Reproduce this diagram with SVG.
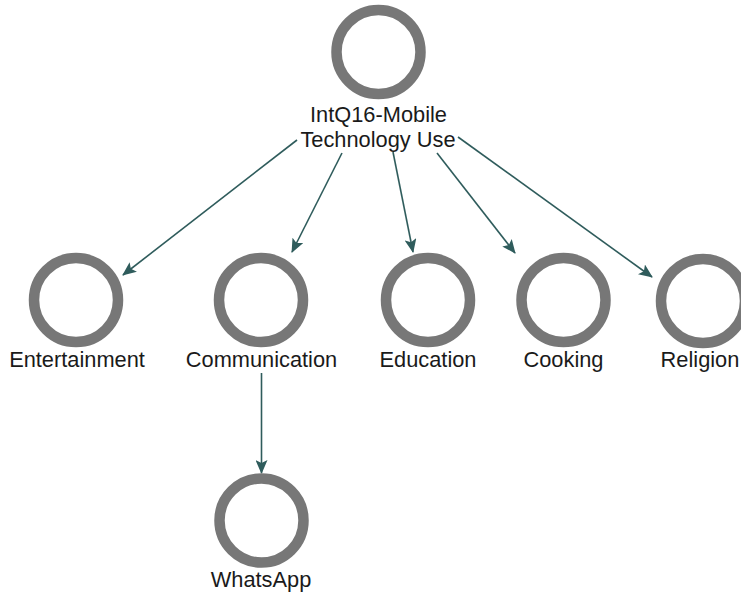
<svg xmlns="http://www.w3.org/2000/svg" width="741" height="595" viewBox="0 0 741 595">
<style>
.node circle{fill:none;stroke:#777777;stroke-width:10.5}
.node text{font-family:"Liberation Sans",Arial,sans-serif;font-size:21.8px;fill:#1a1a1a;text-anchor:middle}
.edge{stroke:#2f5c5c;stroke-width:1.6;fill:none;marker-end:url(#arr)}
</style>
<defs>
<marker id="arr" markerUnits="userSpaceOnUse" viewBox="0 0 14 12" markerWidth="14" markerHeight="12" refX="13" refY="6" orient="auto">
<path d="M0,0 L14,6 L0,12 L3,6 z" fill="#2f5c5c"/>
</marker>
</defs>
<rect width="741" height="595" fill="#ffffff"/>
<g id="connectors">
<line class="edge" x1="297" y1="140" x2="123" y2="275"/>
<line class="edge" x1="342" y1="153" x2="292" y2="252"/>
<line class="edge" x1="393" y1="152" x2="413" y2="252"/>
<line class="edge" x1="437" y1="153" x2="515" y2="253"/>
<line class="edge" x1="458" y1="137" x2="652" y2="277"/>
<line class="edge" x1="261.5" y1="373" x2="261.5" y2="473"/>
</g>
<g id="n-root" class="node">
<circle cx="378.5" cy="52" r="42"/>
<text x="378.5" y="122">IntQ16-Mobile</text>
<text x="378" y="147">Technology Use</text>
</g>
<g id="n-entertainment" class="node">
<circle cx="76" cy="300" r="42"/>
<text x="77" y="367">Entertainment</text>
</g>
<g id="n-communication" class="node">
<circle cx="261" cy="300" r="42"/>
<text x="261.5" y="367">Communication</text>
</g>
<g id="n-education" class="node">
<circle cx="428" cy="300" r="42"/>
<text x="428" y="367">Education</text>
</g>
<g id="n-cooking" class="node">
<circle cx="563.5" cy="300" r="42"/>
<text x="563.5" y="367">Cooking</text>
</g>
<g id="n-religion" class="node">
<circle cx="703" cy="301" r="42"/>
<text x="700" y="367">Religion</text>
</g>
<g id="n-whatsapp" class="node">
<circle cx="261.5" cy="520.5" r="42"/>
<text x="261" y="587">WhatsApp</text>
</g>
</svg>
